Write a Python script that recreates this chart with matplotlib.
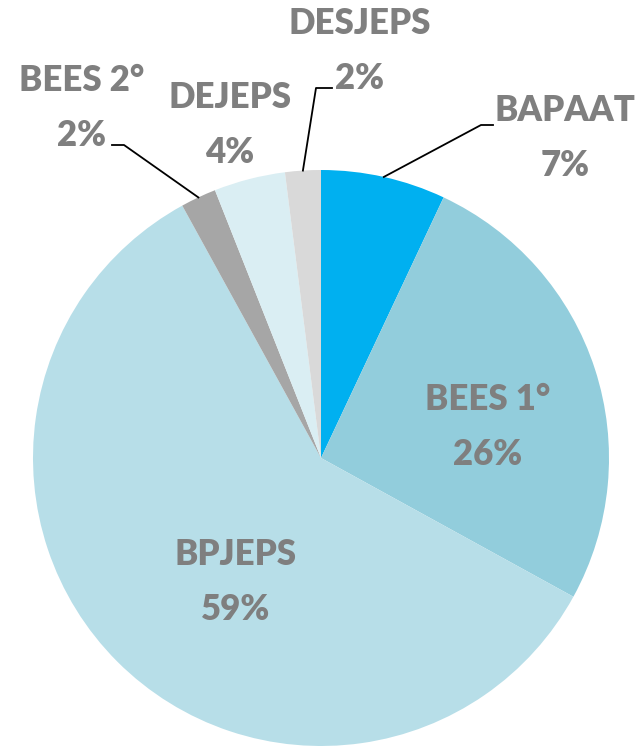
import numpy as np
import matplotlib
matplotlib.use('Agg')
import matplotlib.pyplot as plt

LABELS = ['BAPAAT', 'BEES 1°', 'BPJEPS', 'BEES 2°', 'DEJEPS', 'DESJEPS']
VALUES = [7, 26, 59, 2, 4, 2]
COLORS = ['#00b0f0', '#92cddc', '#b7dee8', '#a6a6a6', '#daeef3', '#d9d9d9']
TEXT_COLOR = '#7f7f7f'

W, H = 638, 746
CX, CY, R = 321, H - 458, 288

# label centre (pixels, top-left origin) and optional leader bend/end points
LABEL_POS = {
    'BAPAAT': (565, 138),
    'BEES 1°': (488, 427),
    'BPJEPS': (236, 582),
    'BEES 2°': (82, 108),
    'DEJEPS': (230, 125),
    'DESJEPS': (360, 51),
}
LEADERS = {
    'BAPAAT': [(481, 125), (493, 125)],
    'BEES 2°': [(124, 145), (112, 145)],
    'DESJEPS': [(316, 88), (332, 88)],
}

fig = plt.figure(figsize=(W / 100, H / 100), dpi=100)
ax = fig.add_axes([0, 0, 1, 1])

wedges, _ = ax.pie(VALUES, colors=COLORS, startangle=90, counterclock=False,
    center=(CX, CY), radius=R, frame=True)
ax.set_xlim(0, W)
ax.set_ylim(0, H)
ax.set_aspect('equal')
ax.axis('off')

total = sum(VALUES)
cum = 0
for lab, v in zip(LABELS, VALUES):
    mid = (cum + v / 2) / total
    cum += v
    ang = np.pi / 2 - 2 * np.pi * mid
    x, y = LABEL_POS[lab]
    ax.text(x, H - y, '%s\n%d%%' % (lab, v), ha='center', va='center',
        fontsize=25, fontweight='heavy', family='Lato', color=TEXT_COLOR,
        linespacing=1.82)
    if lab in LEADERS:
        xs = [CX + R * np.cos(ang)] + [p[0] for p in LEADERS[lab]]
        ys = [CY + R * np.sin(ang)] + [H - p[1] for p in LEADERS[lab]]
        ax.plot(xs, ys, color='black', lw=1.3)

fig.savefig('out.png', dpi=100)
